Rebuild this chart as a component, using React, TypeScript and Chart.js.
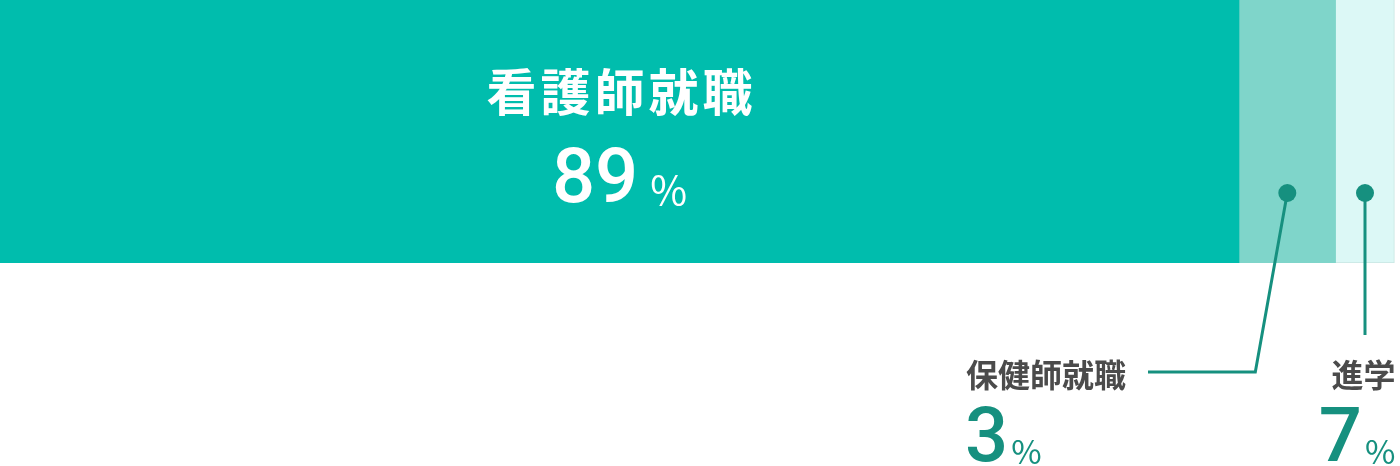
import { useEffect, useRef } from "react";
import { Chart, registerables } from "chart.js";

Chart.register(...registerables);

// segment names, label percentages, and the drawn bar widths (share of full width)
const categories = ["看護師就職", "保健師就職", "進学"];
const percentLabels = [89, 3, 7];
const barWidths = [88.5, 6.9, 4.2];
const barColors = ["#00bdad", "#7fd5ca", "#dcf8f6"];

const TEAL = "#16907f";
const GRAY = "#4b4b4b";
const JP = '"Noto Sans CJK JP", "Noto Sans", sans-serif';
const NUM = 'Roboto, "Noto Sans", sans-serif';

const annotations = {
  id: "annotations",
  afterDatasetsDraw(chart: any) {
    const { ctx, chartArea, scales } = chart;
    const x = scales.x;
    const starts: number[] = [];
    let acc = 0;
    barWidths.forEach((w) => {
      starts.push(acc);
      acc += w;
    });
    const center = (i: number) => x.getPixelForValue(starts[i] + barWidths[i] / 2);
    const rightEdge = x.getPixelForValue(starts[2] + barWidths[2]) + 1;
    const bottom = chartArea.bottom;

    ctx.save();

    // main label inside the big segment
    const cx0 = center(0);
    ctx.fillStyle = "#ffffff";
    ctx.font = `bold 50px ${JP}`;
    ctx.textAlign = "center";
    ctx.textBaseline = "middle";
    (ctx as any).letterSpacing = "4px";
    ctx.fillText(categories[0], cx0 + 2, 92);
    (ctx as any).letterSpacing = "0px";
    drawPercent(ctx, String(percentLabels[0]), cx0, 202, "center", "#ffffff", 76, 40, 12);

    // leader lines and dots
    const dotY = bottom - 70;
    const lineY = 372;
    ctx.strokeStyle = TEAL;
    ctx.fillStyle = TEAL;
    ctx.lineWidth = 3;

    const d1 = center(1);
    ctx.beginPath();
    ctx.moveTo(d1, dotY);
    ctx.lineTo(d1 - 32, lineY);
    ctx.lineTo(1148, lineY);
    ctx.stroke();
    ctx.beginPath();
    ctx.arc(d1, dotY, 9, 0, Math.PI * 2);
    ctx.fill();

    const d2 = center(2);
    ctx.beginPath();
    ctx.moveTo(d2, dotY);
    ctx.lineTo(d2, 335);
    ctx.stroke();
    ctx.beginPath();
    ctx.arc(d2, dotY, 9, 0, Math.PI * 2);
    ctx.fill();

    // outside labels
    ctx.fillStyle = GRAY;
    ctx.font = `bold 32px ${JP}`;
    ctx.textBaseline = "middle";
    ctx.textAlign = "left";
    ctx.fillText(categories[1], 966, 375);
    ctx.textAlign = "right";
    ctx.fillText(categories[2], rightEdge, 375);

    drawPercent(ctx, String(percentLabels[1]), 965, 461, "left", TEAL, 76, 33, 3);
    drawPercent(ctx, String(percentLabels[2]), rightEdge, 461, "right", TEAL, 76, 33, 3);

    ctx.restore();
  },
};

function drawPercent(
  ctx: CanvasRenderingContext2D,
  num: string,
  xPos: number,
  baseline: number,
  align: "left" | "center" | "right",
  color: string,
  numSize: number,
  pctSize: number,
  gap: number
) {
  ctx.save();
  ctx.fillStyle = color;
  ctx.textBaseline = "alphabetic";
  ctx.textAlign = "left";
  ctx.font = `500 ${numSize}px ${NUM}`;
  const nw = ctx.measureText(num).width;
  ctx.font = `400 ${pctSize}px ${JP}`;
  const pw = ctx.measureText("%").width;
  const total = nw + gap + pw;
  let left = xPos;
  if (align === "center") left = xPos - total / 2;
  if (align === "right") left = xPos - total;
  ctx.font = `500 ${numSize}px ${NUM}`;
  ctx.fillText(num, left, baseline);
  ctx.font = `400 ${pctSize}px ${JP}`;
  ctx.fillText("%", left + nw + gap, baseline + 3);
  ctx.restore();
}

export default function App() {
  const canvasRef = useRef<HTMLCanvasElement>(null);
  const chartRef = useRef<Chart | null>(null);

  useEffect(() => {
    if (!canvasRef.current) return;
    document.body.style.margin = "0";

    if (chartRef.current) chartRef.current.destroy();

    chartRef.current = new Chart(canvasRef.current, {
      type: "bar",
      data: {
        labels: ["進路"],
        datasets: categories.map((name, i) => ({
          label: name,
          data: [barWidths[i]],
          backgroundColor: barColors[i],
          borderColor: i === 2 ? "#c9e6e2" : barColors[i],
          borderWidth: i === 2 ? { right: 1, bottom: 1 } : 0,
          borderSkipped: false,
          barPercentage: 1,
          categoryPercentage: 1,
        })),
      },
      plugins: [annotations],
      options: {
        indexAxis: "y",
        responsive: false,
        animation: false,
        layout: { padding: { top: 0, left: 0, right: 0, bottom: 203 } },
        plugins: {
          legend: { display: false },
          tooltip: { enabled: false },
        },
        scales: {
          x: { stacked: true, min: 0, max: 100, display: false },
          y: { stacked: true, display: false },
        },
      },
    } as any);

    return () => {
      if (chartRef.current) {
        chartRef.current.destroy();
        chartRef.current = null;
      }
    };
  }, []);

  return (
    <div style={{ position: "absolute", left: 0, top: 0, width: 1400, height: 466 }}>
      <canvas ref={canvasRef} width={1400} height={466} />
    </div>
  );
}
